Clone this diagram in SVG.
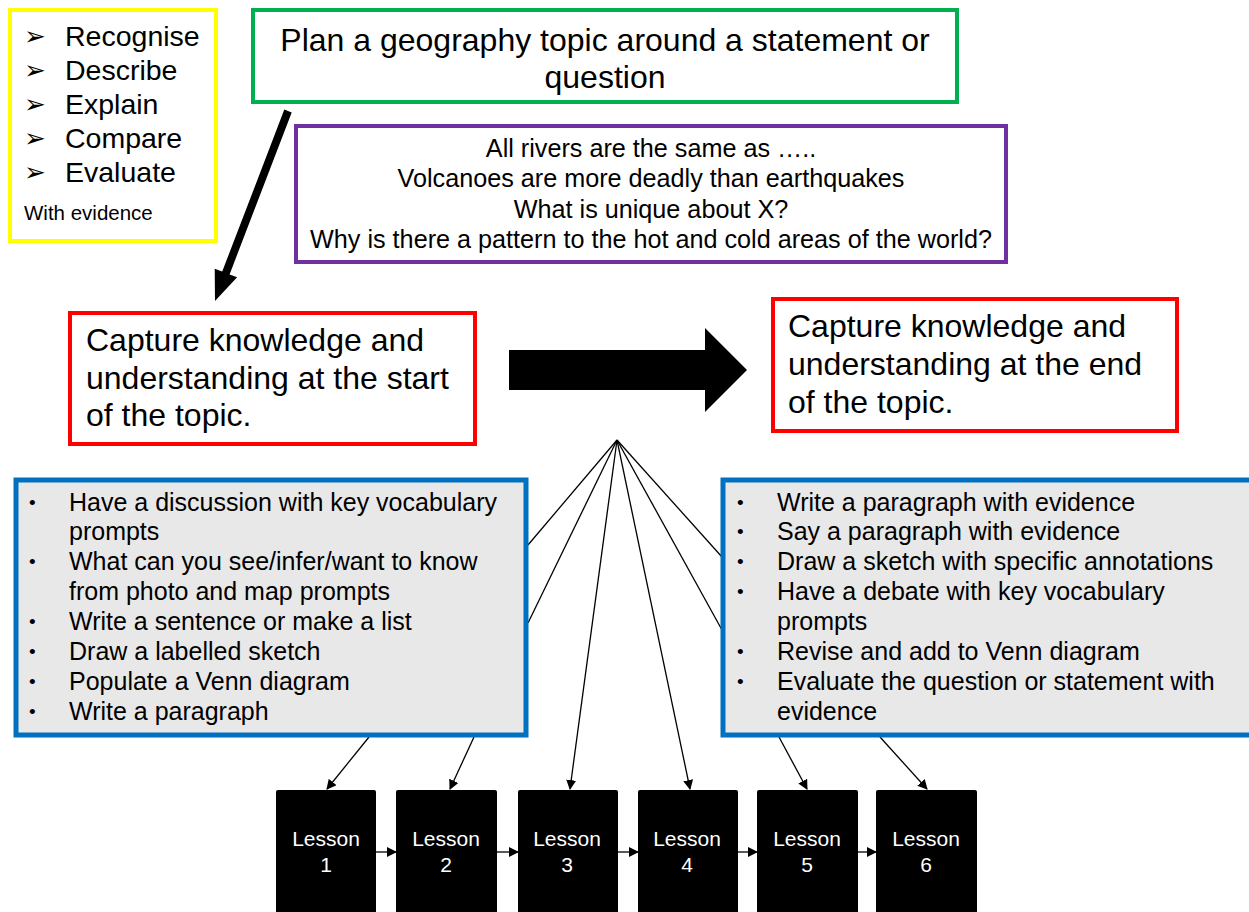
<svg xmlns="http://www.w3.org/2000/svg" width="1249" height="912" viewBox="0 0 1249 912">
<defs>
<style>
text{font-family:"Liberation Sans",Arial,sans-serif;fill:#000}
.box{fill:#fff;stroke-width:4}
.blue{fill:#E8E8E8;stroke:#0070C0;stroke-width:5}
.les{fill:#000;stroke:none}
.lt{fill:#fff;font-size:21px;text-anchor:middle}
.con{stroke:#000;stroke-width:1.3;fill:none}
.big{font-size:32px}
.mid{font-size:25.2px;text-anchor:middle}
.lst{font-size:25px}
.bu{font-size:19px}
.yl{font-size:28.5px}
.gl{font-family:"DejaVu Sans",sans-serif;font-size:26px}
</style>
<marker id="ah" markerWidth="10" markerHeight="10" refX="9" refY="5" orient="auto" markerUnits="userSpaceOnUse">
<path d="M0,0 L10,5 L0,10 z" fill="#000"/>
</marker>
</defs>
<rect width="1249" height="912" fill="#fff"/>

<g id="verbs">
<rect class="box" x="10" y="10" width="206" height="231" stroke="#FFFF00"/>
<text class="gl" x="24" y="45">➢</text>
<text class="gl" x="24" y="79">➢</text>
<text class="gl" x="24" y="113">➢</text>
<text class="gl" x="24" y="147">➢</text>
<text class="gl" x="24" y="181">➢</text>
<text class="yl" x="65" y="46">Recognise</text>
<text class="yl" x="65" y="80">Describe</text>
<text class="yl" x="65" y="114">Explain</text>
<text class="yl" x="65" y="148">Compare</text>
<text class="yl" x="65" y="182">Evaluate</text>
<text x="24" y="220" font-size="20.5">With evidence</text>
</g>

<g id="plan">
<rect class="box" x="253" y="10" width="704" height="92" stroke="#00B050"/>
<text class="big" x="605" y="51" text-anchor="middle">Plan a geography topic around a statement or</text>
<text class="big" x="605" y="88" text-anchor="middle">question</text>
</g>

<g id="examples">
<rect class="box" x="296" y="126" width="710" height="136" stroke="#7030A0"/>
<text class="mid" x="651" y="157">All rivers are the same as …..</text>
<text class="mid" x="651" y="187">Volcanoes are more deadly than earthquakes</text>
<text class="mid" x="651" y="218">What is unique about X?</text>
<text class="mid" x="651" y="248">Why is there a pattern to the hot and cold areas of the world?</text>
</g>

<g id="start">
<rect class="box" x="70" y="313" width="405" height="131" stroke="#FF0000"/>
<text class="big" x="86" y="351">Capture knowledge and</text>
<text class="big" x="86" y="389">understanding at the start</text>
<text class="big" x="86" y="426">of the topic.</text>
</g>

<g id="end">
<rect class="box" x="773" y="299" width="404" height="132" stroke="#FF0000"/>
<text class="big" x="788" y="337">Capture knowledge and</text>
<text class="big" x="788" y="375">understanding at the end</text>
<text class="big" x="788" y="413">of the topic.</text>
</g>

<g id="connectors">
<polygon points="284.3,109.6 291.7,112.4 229.6,274.4 237.1,277.3 215,301 214.7,268.7 222.2,271.6" fill="#000"/>
<polygon points="509,350 705,350 705,328 747,370 705,412 705,390 509,390" fill="#000"/>
<line class="con" x1="617" y1="440" x2="528" y2="545"/>
<line class="con" x1="617" y1="440" x2="528" y2="623"/>
<line class="con" x1="617" y1="440" x2="722" y2="557"/>
<line class="con" x1="617" y1="440" x2="722" y2="630"/>
<line class="con" x1="617" y1="440" x2="570" y2="789" marker-end="url(#ah)"/>
<line class="con" x1="617" y1="440" x2="690" y2="789" marker-end="url(#ah)"/>
<line class="con" x1="369" y1="737" x2="327" y2="789" marker-end="url(#ah)"/>
<line class="con" x1="474" y1="737" x2="450" y2="789" marker-end="url(#ah)"/>
<line class="con" x1="779" y1="737" x2="807" y2="789" marker-end="url(#ah)"/>
<line class="con" x1="880" y1="737" x2="927" y2="789" marker-end="url(#ah)"/>
<line class="con" x1="376" y1="852" x2="396" y2="852" marker-end="url(#ah)"/>
<line class="con" x1="497" y1="852" x2="518" y2="852" marker-end="url(#ah)"/>
<line class="con" x1="618" y1="852" x2="638" y2="852" marker-end="url(#ah)"/>
<line class="con" x1="738" y1="852" x2="757" y2="852" marker-end="url(#ah)"/>
<line class="con" x1="858" y1="852" x2="876" y2="852" marker-end="url(#ah)"/>
</g>

<g id="startActivities">
<rect class="blue" x="16" y="480" width="510" height="255"/>
<g class="bu">
<text x="29" y="509">•</text>
<text x="29" y="568">•</text>
<text x="29" y="628">•</text>
<text x="29" y="658">•</text>
<text x="29" y="688">•</text>
<text x="29" y="718">•</text>
</g>
<g class="lst">
<text x="69" y="511">Have a discussion with key vocabulary</text>
<text x="69" y="540">prompts</text>
<text x="69" y="570">What can you see/infer/want to know</text>
<text x="69" y="600">from photo and map prompts</text>
<text x="69" y="630">Write a sentence or make a list</text>
<text x="69" y="660">Draw a labelled sketch</text>
<text x="69" y="690">Populate a Venn diagram</text>
<text x="69" y="720">Write a paragraph</text>
</g>
</g>

<g id="endActivities">
<rect class="blue" x="723" y="480" width="530" height="255"/>
<g class="bu">
<text x="737" y="509">•</text>
<text x="737" y="538">•</text>
<text x="737" y="568">•</text>
<text x="737" y="598">•</text>
<text x="737" y="658">•</text>
<text x="737" y="688">•</text>
</g>
<g class="lst">
<text x="777" y="511">Write a paragraph with evidence</text>
<text x="777" y="540">Say a paragraph with evidence</text>
<text x="777" y="570">Draw a sketch with specific annotations</text>
<text x="777" y="600">Have a debate with key vocabulary</text>
<text x="777" y="630">prompts</text>
<text x="777" y="660">Revise and add to Venn diagram</text>
<text x="777" y="690">Evaluate the question or statement with</text>
<text x="777" y="720">evidence</text>
</g>
</g>

<g id="lesson1"><rect class="les" x="276" y="790" width="100" height="130" rx="2"/><text class="lt" x="326" y="846">Lesson</text><text class="lt" x="326" y="872">1</text></g>
<g id="lesson2"><rect class="les" x="396" y="790" width="101" height="130" rx="2"/><text class="lt" x="446" y="846">Lesson</text><text class="lt" x="446" y="872">2</text></g>
<g id="lesson3"><rect class="les" x="518" y="790" width="100" height="130" rx="2"/><text class="lt" x="567" y="846">Lesson</text><text class="lt" x="567" y="872">3</text></g>
<g id="lesson4"><rect class="les" x="638" y="790" width="100" height="130" rx="2"/><text class="lt" x="687" y="846">Lesson</text><text class="lt" x="687" y="872">4</text></g>
<g id="lesson5"><rect class="les" x="757" y="790" width="101" height="130" rx="2"/><text class="lt" x="807" y="846">Lesson</text><text class="lt" x="807" y="872">5</text></g>
<g id="lesson6"><rect class="les" x="876" y="790" width="101" height="130" rx="2"/><text class="lt" x="926" y="846">Lesson</text><text class="lt" x="926" y="872">6</text></g>
</svg>
